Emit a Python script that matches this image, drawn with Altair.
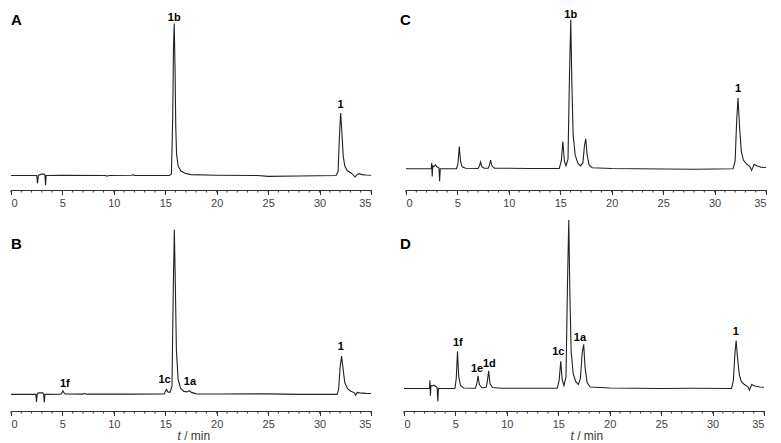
import altair as alt
import pandas as pd

# ---- traces: (time in min, detector signal in arbitrary units, baseline = 0) ----
trace_a = [(0, 0), (2.5, 0), (2.58, -8), (2.66, 0), (2.8, 1), (3.0, 1.5), (3.2, 1.5), (3.3, 0.5),
           (3.36, -10), (3.42, 0), (5.0, 0.3), (9.2, 0), (9.35, -0.6), (9.5, 0), (11.7, 0.3),
           (11.85, 0.8), (12.0, 0.2), (15.4, 0), (15.6, 2), (15.72, 60), (15.8, 135), (15.87, 158),
           (15.95, 110), (16.02, 50), (16.1, 22), (16.25, 10), (16.5, 5), (16.9, 2.5), (17.5, 1),
           (20.0, 0.4), (24.0, 0), (25.0, -0.8), (28.0, -0.4), (31.6, 0), (31.8, 4), (31.95, 45),
           (32.05, 65), (32.15, 48), (32.3, 20), (32.45, 10), (32.7, 5), (33.1, 2.5), (33.45, -1.5),
           (33.6, 0.5), (33.85, 2), (34.1, 1), (34.5, 0.6), (35.0, 0.3)]

trace_b = [(0, 0), (2.42, 0), (2.48, -7.7), (2.54, 0), (2.65, 1.5), (2.9, 1.7), (3.1, 1.5), (3.18, 0),
           (3.24, -8.3), (3.3, 0), (4.85, 0.2), (4.95, 1.5), (5.05, 3.7), (5.15, 1.5), (5.3, 0.3),
           (7.0, 0.2), (7.14, 1), (7.3, 0.2), (11.5, 0.2), (14.9, 0.5), (15.0, 3), (15.12, 5),
           (15.25, 2.5), (15.45, 2), (15.65, 8), (15.78, 110), (15.88, 168), (15.98, 110), (16.08, 45),
           (16.25, 15), (16.5, 6), (16.8, 3), (17.1, 2.5), (17.34, 3.7), (17.55, 2), (18.0, 0.5),
           (20.0, 0.3), (25.0, 0.5), (28.0, 0), (31.7, 0), (31.85, 5), (32.0, 28), (32.14, 39),
           (32.3, 25), (32.45, 12), (32.7, 6), (33.0, 3.5), (33.4, 1.5), (33.5, -1), (33.66, 2),
           (33.9, 1.5), (34.5, 1), (35.0, 0.8)]

trace_c = [(0, 0), (2.45, 0), (2.5, 6), (2.55, -8), (2.6, 3), (2.7, 2), (2.85, 4), (3.0, 2), (3.2, 1),
           (3.27, -13), (3.33, 0), (4.9, 0), (5.05, 5), (5.18, 23), (5.3, 8), (5.45, 2), (5.8, 0.5),
           (7.0, 0.3), (7.15, 3), (7.25, 7), (7.38, 2), (7.6, 0.5), (8.0, 0.5), (8.12, 4), (8.22, 9),
           (8.35, 3), (8.6, 0.5), (12.0, 0.3), (14.9, 0.3), (15.1, 8), (15.25, 28), (15.4, 8),
           (15.55, 3), (15.75, 10), (15.9, 100), (16.02, 154), (16.12, 90), (16.25, 35), (16.45, 14),
           (16.7, 6), (16.95, 3), (17.2, 6), (17.35, 24), (17.48, 31), (17.6, 15), (17.8, 4),
           (18.1, 1), (20.0, 0.3), (25.0, -0.3), (28.0, -0.5), (31.8, 0), (32.0, 8), (32.15, 50),
           (32.28, 73), (32.42, 45), (32.6, 18), (32.8, 9), (33.1, 5), (33.45, 2), (33.6, -1.7),
           (33.85, 4.5), (34.1, 3), (34.5, 1.5), (35.0, 1.3)]

trace_d = [(0, 0), (2.48, 0), (2.52, 8.3), (2.57, -7.3), (2.62, 3), (2.75, 2.5), (2.9, 3.3), (3.1, 2),
           (3.22, 1), (3.29, -13.3), (3.35, 0), (4.95, 0), (5.08, 10), (5.2, 38), (5.32, 12), (5.5, 3),
           (5.8, 0.5), (6.95, 0.3), (7.08, 5), (7.2, 13), (7.33, 4), (7.55, 1), (7.7, 0.8), (8.0, 1.5),
           (8.1, 7), (8.23, 18), (8.36, 5), (8.6, 1), (9.5, 0.3), (14.9, 0.3), (15.08, 8),
           (15.24, 27.7), (15.38, 9), (15.55, 3), (15.75, 12), (15.9, 110), (16.02, 172), (16.12, 100),
           (16.25, 38), (16.45, 15), (16.7, 7), (16.95, 4), (17.15, 10), (17.32, 36), (17.47, 45),
           (17.6, 22), (17.8, 6), (18.1, 1.5), (20.0, 0.5), (25.0, 0), (28.0, 0.3), (31.85, 0),
           (32.02, 8), (32.17, 35), (32.29, 49), (32.42, 32), (32.6, 14), (32.8, 7), (33.1, 4),
           (33.45, 1.5), (33.58, -1.7), (33.8, 4), (34.1, 2.5), (34.6, 1.5), (35.0, 1.3)]

# ---- peak labels: (text, time, signal position) ----
labels_a = [("1b", 15.87, 164), ("1", 32.05, 73)]
labels_b = [("1f", 5.24, 11), ("1c", 14.93, 15), ("1a", 17.4, 13), ("1", 32.07, 48)]
labels_c = [("1b", 16.02, 159), ("1", 32.28, 82)]
labels_d = [("1f", 5.23, 46), ("1e", 7.1, 20), ("1d", 8.3, 25), ("1c", 15.0, 37),
            ("1a", 17.1, 52), ("1", 32.26, 58)]

major_ticks = [0, 5, 10, 15, 20, 25, 30, 35]
minor_ticks = list(range(0, 36))

W = 360
H_TOP = 177
H_BOT = 192
FONT = "Liberation Sans"
INK = "#222222"

XAXIS = alt.Axis(values=major_ticks, tickSize=4.5, labelPadding=3, grid=False, title=None,
                 domainColor="#333", tickColor="#333", labelColor="#444",
                 labelFont=FONT, labelFontSize=11, format="d")


def panel(trace, labels, letter, ydom, height, letter_dx, letter_dy, with_title):
    df = pd.DataFrame(trace, columns=["t", "s"])
    lab = pd.DataFrame(labels, columns=["txt", "t", "s"])
    xsc = alt.Scale(domain=[0, 35], nice=False)
    ysc = alt.Scale(domain=ydom, nice=False, zero=False)

    line = alt.Chart(df).mark_line(color=INK, strokeWidth=1.1).encode(
        x=alt.X("t:Q", scale=xsc, title=None, axis=XAXIS),
        y=alt.Y("s:Q", scale=ysc, axis=None),
        order="t:Q",
    )
    minor = alt.Chart(pd.DataFrame({"t": minor_ticks})).mark_rule(color="#333", strokeWidth=1).encode(
        x=alt.X("t:Q", scale=xsc, title=None, axis=XAXIS),
        y=alt.value(height),
        y2=alt.value(height + 2.5),
    )
    text = alt.Chart(lab).mark_text(font=FONT, fontSize=11, fontWeight="bold", color="#000",
                                    baseline="middle", align="center").encode(
        x=alt.X("t:Q", scale=xsc, title=None, axis=XAXIS),
        y=alt.Y("s:Q", scale=ysc, axis=None),
        text="txt:N",
    )
    let = alt.Chart(pd.DataFrame({"k": [letter]})).mark_text(
        font=FONT, fontSize=15, fontWeight="bold", color="#000", align="left", baseline="top"
    ).encode(x=alt.value(letter_dx), y=alt.value(letter_dy), text="k:N")
    layers = [line, minor, text, let]
    if with_title:
        tpart = alt.Chart(pd.DataFrame({"k": ["t"]})).mark_text(
            font=FONT, fontSize=12, fontStyle="italic", color="#333", align="right", baseline="middle"
        ).encode(x=alt.value(W * 0.472), y=alt.value(height + 25), text="k:N")
        rest = alt.Chart(pd.DataFrame({"k": ["/ min"]})).mark_text(
            font=FONT, fontSize=12, color="#333", align="left", baseline="middle"
        ).encode(x=alt.value(W * 0.481), y=alt.value(height + 25), text="k:N")
        layers += [tpart, rest]
    return alt.layer(*layers).properties(width=W, height=height)


pa = panel(trace_a, labels_a, "A", [-15, 169], H_TOP, 0, 0, False)
pc = panel(trace_c, labels_c, "C", [-22, 161], H_TOP, -6, 0, False)
pb = panel(trace_b, labels_b, "B", [-17, 179], H_BOT, 0, 18, True)
pd_ = panel(trace_d, labels_d, "D", [-23, 173], H_BOT, -4, 18, True)

top = alt.hconcat(pa, pc, spacing=26)
bottom = alt.hconcat(pb, pd_, spacing=26)
chart = alt.vconcat(top, bottom, spacing=8).properties(padding=0).configure_view(stroke=None)

chart.save("out.html", embed_options={"renderer": "svg", "actions": False})
